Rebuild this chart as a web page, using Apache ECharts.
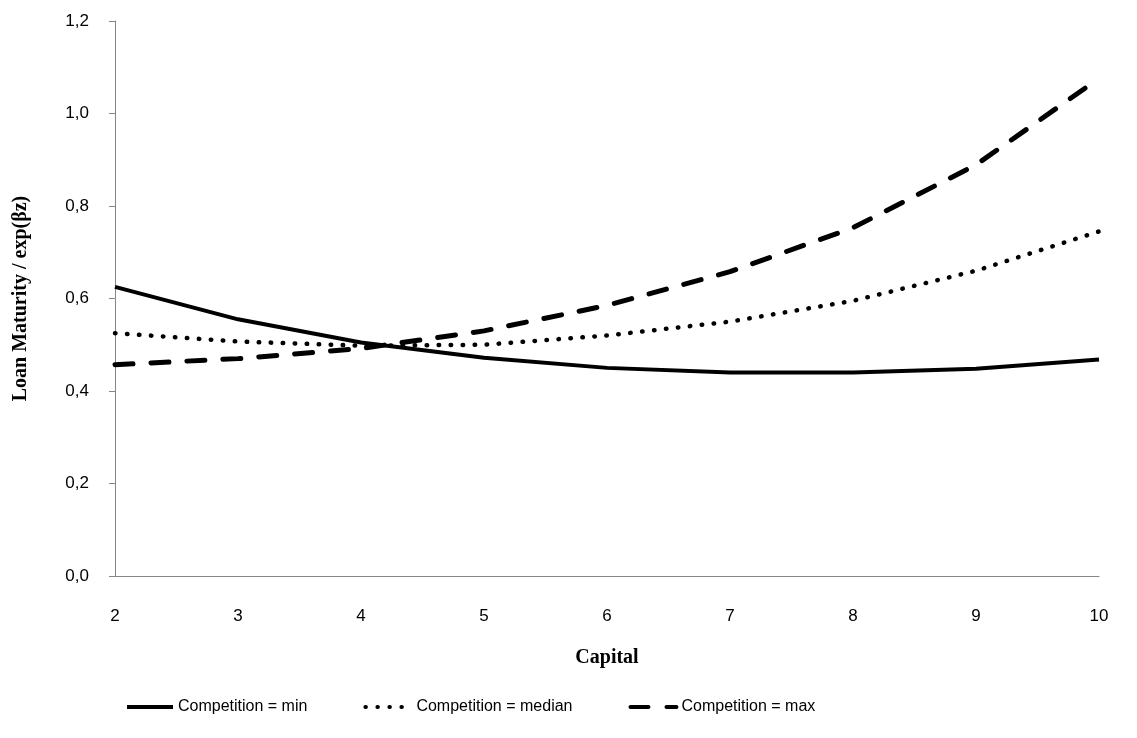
<!DOCTYPE html>
<html>
<head>
<meta charset="utf-8">
<script src="https://cdn.jsdelivr.net/npm/echarts@6/dist/echarts.min.js"></script>
<style>html,body{margin:0;padding:0;background:#fff}#c{width:1137px;height:738px}</style>
</head>
<body>
<div id="c"></div>
<script>
const capital = [2, 3, 4, 5, 6, 7, 8, 9, 10];
const compMin = [0.625, 0.555, 0.505, 0.472, 0.450, 0.440, 0.440, 0.448, 0.468];
const compMedian = [0.525, 0.507, 0.498, 0.500, 0.520, 0.550, 0.595, 0.660, 0.745];
const compMax = [0.457, 0.470, 0.492, 0.530, 0.585, 0.658, 0.753, 0.889, 1.076];
const yTicks = [0, 0.2, 0.4, 0.6, 0.8, 1.0, 1.2];

const pairs = arr => capital.map((x, i) => [x, arr[i]]);
const sans = 'Liberation Sans';
const serif = 'Liberation Serif';

const chart = echarts.init(document.getElementById('c'));
chart.setOption({
  animation: false,
  backgroundColor: '#fff',
  grid: { left: 115, right: 38, top: 21, bottom: 162, containLabel: false },
  xAxis: {
    type: 'value', min: 2, max: 10, interval: 1,
    name: 'Capital', nameLocation: 'middle', nameGap: 72,
    nameTextStyle: { fontFamily: serif, fontWeight: 'bold', fontSize: 20, color: '#000' },
    axisLine: { lineStyle: { color: '#868686', width: 1 } },
    axisTick: { show: false },
    splitLine: { show: false },
    axisLabel: { fontFamily: sans, fontSize: 17, color: '#000', margin: 32 }
  },
  yAxis: {
    type: 'value', min: yTicks[0], max: yTicks[yTicks.length - 1], interval: 0.2,
    name: 'Loan Maturity / exp(βz)', nameLocation: 'middle', nameGap: 84, nameRotate: 90,
    nameTextStyle: { fontFamily: serif, fontWeight: 'bold', fontSize: 20, color: '#000' },
    axisLine: { show: true, lineStyle: { color: '#868686', width: 1 } },
    axisTick: { show: true, inside: false, length: 6, lineStyle: { color: '#868686' } },
    splitLine: { show: false },
    axisLabel: { fontFamily: sans, fontSize: 17, color: '#000', margin: 26,
      formatter: v => v.toFixed(1).replace('.', ',') }
  },
  legend: {
    bottom: 18, left: 120, itemWidth: 46, itemHeight: 14, itemGap: 56,
    itemStyle: { opacity: 0 },
    lineStyle: { width: 4 },
    textStyle: { fontFamily: sans, fontSize: 16, color: '#000' },
    data: ['Competition = min', 'Competition = median', 'Competition = max']
  },
  series: [
    { name: 'Competition = min', type: 'line', data: pairs(compMin), symbol: 'none',
      lineStyle: { color: '#000', width: 4, type: 'solid' }, itemStyle: { color: '#000' } },
    { name: 'Competition = median', type: 'line', data: pairs(compMedian), symbol: 'none',
      lineStyle: { color: '#000', width: 4.5, type: [0.5, 11.5], cap: 'round' }, itemStyle: { color: '#000' } },
    { name: 'Competition = max', type: 'line', data: pairs(compMax), symbol: 'none',
      lineStyle: { color: '#000', width: 5, type: [18, 18], cap: 'round' }, itemStyle: { color: '#000' } }
  ]
});
</script>
</body>
</html>
